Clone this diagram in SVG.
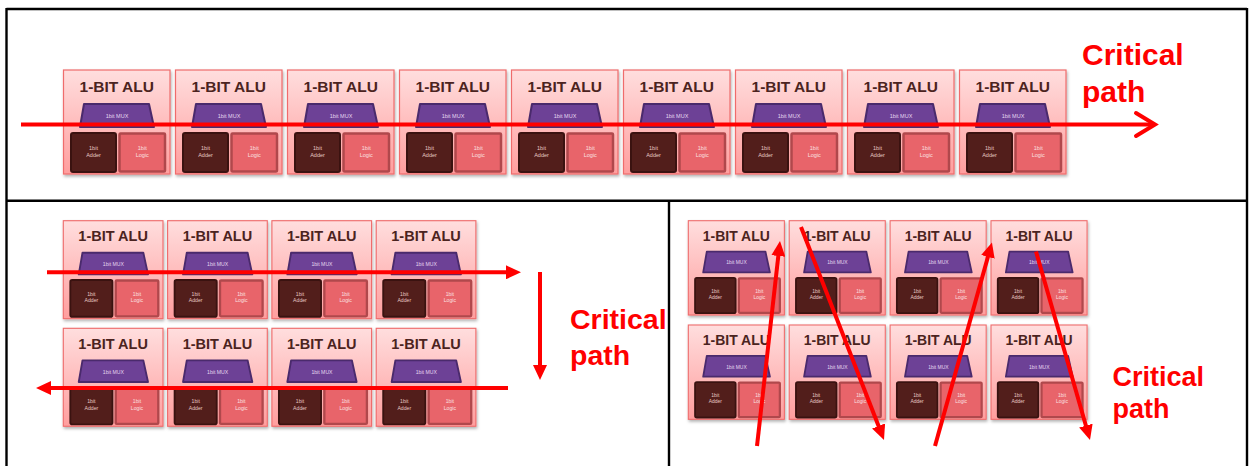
<svg xmlns="http://www.w3.org/2000/svg" xmlns:xlink="http://www.w3.org/1999/xlink" width="1249" height="466" viewBox="0 0 1249 466">
  <style>
    .frame { fill: none; stroke: #000; stroke-width: 2.4; }
    .title { font-family: "Liberation Sans", Arial, sans-serif; font-weight: bold; font-size: 15.5px; fill: #4b2320; text-anchor: middle; }
    .tiny { font-family: "Liberation Sans", Arial, sans-serif; font-size: 5.5px; text-anchor: middle; }
    .mux-t { fill: #e6d8f0; }
    .add-t { fill: #e8c8c4; }
    .log-t { fill: #fbe0e0; }
    .crit { font-family: "Liberation Sans", Arial, sans-serif; font-weight: bold; fill: #ff0000; }
    .path { fill: none; stroke: #ff0000; stroke-width: 4; }
  </style>
  <defs>
    <linearGradient id="aluGrad" x1="0" y1="0" x2="0" y2="1">
      <stop offset="0" stop-color="#ffdede"/>
      <stop offset="1" stop-color="#ff9e9e"/>
    </linearGradient>
    <filter id="shadow" x="-10%" y="-10%" width="125%" height="125%">
      <feDropShadow dx="1" dy="2" stdDeviation="1.5" flood-color="#000" flood-opacity="0.3"/>
    </filter>
    <marker id="head" markerUnits="userSpaceOnUse" markerWidth="15" markerHeight="14" viewBox="0 0 15 14" refX="7" refY="7" orient="auto">
      <path d="M0,0 L15,7 L0,14 z" fill="#ff0000"/>
    </marker>
    <g id="alu">
      <rect x="0" y="0" width="106.5" height="104" fill="url(#aluGrad)" stroke="#ef6c6c" stroke-width="1.2" filter="url(#shadow)"/>
      <text class="title" x="53.25" y="22">1-BIT ALU</text>
      <polygon points="20.5,34 85.5,34 90.5,57 16.5,57" fill="#6d4196" stroke="#4a2a6c" stroke-width="2" stroke-linejoin="round"/>
      <text class="tiny mux-t" x="53.5" y="48">1bit MUX</text>
      <rect x="7.5" y="63" width="45" height="39" rx="2" fill="#521e1b" stroke="#3a1210" stroke-width="2"/>
      <text class="tiny add-t" x="30" y="79.5">1bit</text>
      <text class="tiny add-t" x="30" y="86.5">Adder</text>
      <rect x="56" y="63.5" width="45.5" height="38" rx="1" fill="#e8646a" stroke="#b0484c" stroke-width="2.5"/>
      <text class="tiny log-t" x="78.75" y="79.5">1bit</text>
      <text class="tiny log-t" x="78.75" y="86.5">Logic</text>
    </g>
  </defs>

  <rect width="1249" height="466" fill="#fff"/>

  <g id="frames">
    <line class="frame" x1="6.5" y1="9" x2="1247" y2="9"/>
    <line class="frame" x1="6.5" y1="200.7" x2="1247" y2="200.7"/>
    <line class="frame" x1="6.5" y1="8" x2="6.5" y2="466"/>
    <line class="frame" x1="1247" y1="8" x2="1247" y2="466"/>
    <line class="frame" x1="669" y1="200.7" x2="669" y2="466"/>
  </g>

  <!-- Top panel: 9 ALUs in a row -->
  <g id="top-alu-1"><use xlink:href="#alu" transform="translate(63.5,70)"/></g>
  <g id="top-alu-2"><use xlink:href="#alu" transform="translate(175.5,70)"/></g>
  <g id="top-alu-3"><use xlink:href="#alu" transform="translate(287.5,70)"/></g>
  <g id="top-alu-4"><use xlink:href="#alu" transform="translate(399.5,70)"/></g>
  <g id="top-alu-5"><use xlink:href="#alu" transform="translate(511.5,70)"/></g>
  <g id="top-alu-6"><use xlink:href="#alu" transform="translate(623.5,70)"/></g>
  <g id="top-alu-7"><use xlink:href="#alu" transform="translate(735.5,70)"/></g>
  <g id="top-alu-8"><use xlink:href="#alu" transform="translate(847.5,70)"/></g>
  <g id="top-alu-9"><use xlink:href="#alu" transform="translate(959.5,70)"/></g>

  <!-- Bottom-left panel: 2 x 4 -->
  <g id="bl-alu-1"><use xlink:href="#alu" transform="translate(63.3,220.7) scale(0.936,0.942)"/></g>
  <g id="bl-alu-2"><use xlink:href="#alu" transform="translate(167.6,220.7) scale(0.936,0.942)"/></g>
  <g id="bl-alu-3"><use xlink:href="#alu" transform="translate(271.9,220.7) scale(0.936,0.942)"/></g>
  <g id="bl-alu-4"><use xlink:href="#alu" transform="translate(376.2,220.7) scale(0.936,0.942)"/></g>
  <g id="bl-alu-5"><use xlink:href="#alu" transform="translate(63.3,328.3) scale(0.936,0.942)"/></g>
  <g id="bl-alu-6"><use xlink:href="#alu" transform="translate(167.6,328.3) scale(0.936,0.942)"/></g>
  <g id="bl-alu-7"><use xlink:href="#alu" transform="translate(271.9,328.3) scale(0.936,0.942)"/></g>
  <g id="bl-alu-8"><use xlink:href="#alu" transform="translate(376.2,328.3) scale(0.936,0.942)"/></g>

  <!-- Bottom-right panel: 2 x 4 -->
  <g id="br-alu-1"><use xlink:href="#alu" transform="translate(688.3,220.7) scale(0.902,0.907)"/></g>
  <g id="br-alu-2"><use xlink:href="#alu" transform="translate(789.2,220.7) scale(0.902,0.907)"/></g>
  <g id="br-alu-3"><use xlink:href="#alu" transform="translate(890.1,220.7) scale(0.902,0.907)"/></g>
  <g id="br-alu-4"><use xlink:href="#alu" transform="translate(991,220.7) scale(0.902,0.907)"/></g>
  <g id="br-alu-5"><use xlink:href="#alu" transform="translate(688.3,325) scale(0.902,0.907)"/></g>
  <g id="br-alu-6"><use xlink:href="#alu" transform="translate(789.2,325) scale(0.902,0.907)"/></g>
  <g id="br-alu-7"><use xlink:href="#alu" transform="translate(890.1,325) scale(0.902,0.907)"/></g>
  <g id="br-alu-8"><use xlink:href="#alu" transform="translate(991,325) scale(0.902,0.907)"/></g>

  <g id="connectors">
    <!-- top critical path -->
    <line class="path" x1="21" y1="124.5" x2="1153" y2="124.5"/>
    <polyline class="path" points="1136,113 1155,124.5 1136,136" stroke-linecap="round" stroke-linejoin="miter"/>
    <!-- bottom-left -->
    <line class="path" x1="47" y1="272.3" x2="513" y2="272.3" marker-end="url(#head)"/>
    <line class="path" x1="540" y1="272" x2="540" y2="372" marker-end="url(#head)"/>
    <line class="path" x1="508" y1="388" x2="44" y2="388" marker-end="url(#head)"/>
    <!-- bottom-right -->
    <line class="path" x1="757" y1="446" x2="779.1" y2="249" marker-end="url(#head)"/>
    <line class="path" x1="801" y1="227" x2="881.1" y2="432.5" marker-end="url(#head)"/>
    <line class="path" x1="935" y1="446" x2="989.8" y2="250.2" marker-end="url(#head)"/>
    <line class="path" x1="1036" y1="251.5" x2="1087.8" y2="432.3" marker-end="url(#head)"/>
  </g>

  <g id="labels">
    <text class="crit" x="1082" y="65" font-size="30">Critical</text>
    <text class="crit" x="1082" y="102" font-size="30">path</text>
    <text class="crit" x="570" y="329" font-size="28.5">Critical</text>
    <text class="crit" x="570" y="365" font-size="28.5">path</text>
    <text class="crit" x="1112.5" y="386" font-size="27">Critical</text>
    <text class="crit" x="1112.5" y="418" font-size="27">path</text>
  </g>
</svg>
